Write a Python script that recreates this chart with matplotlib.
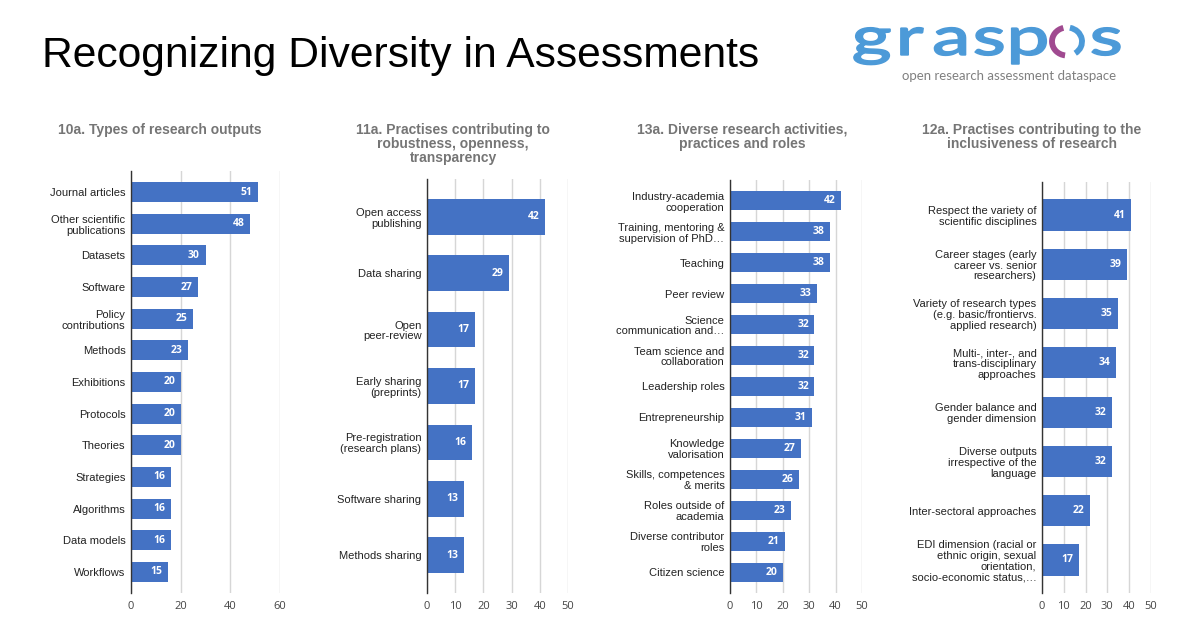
import matplotlib
matplotlib.use("Agg")
import matplotlib.pyplot as plt
from matplotlib.patches import Arc, PathPatch
from matplotlib.textpath import TextPath
from matplotlib.font_manager import FontProperties
from matplotlib.transforms import Affine2D

# ---------------- data ----------------
title1 = "10a. Types of research outputs"
cats1 = ["Journal articles", "Other scientific\npublications", "Datasets", "Software",
         "Policy\ncontributions", "Methods", "Exhibitions", "Protocols", "Theories",
         "Strategies", "Algorithms", "Data models", "Workflows"]
vals1 = [51, 48, 30, 27, 25, 23, 20, 20, 20, 16, 16, 16, 15]
ticks1 = [0, 20, 40, 60]

title2 = "11a. Practises contributing to\nrobustness, openness,\ntransparency"
cats2 = ["Open access\npublishing", "Data sharing", "Open\npeer-review",
         "Early sharing\n(preprints)", "Pre-registration\n(research plans)",
         "Software sharing", "Methods sharing"]
vals2 = [42, 29, 17, 17, 16, 13, 13]
ticks2 = [0, 10, 20, 30, 40, 50]

title3 = "13a. Diverse research activities,\npractices and roles"
cats3 = ["Industry-academia\ncooperation", "Training, mentoring &\nsupervision of PhD…",
         "Teaching", "Peer review", "Science\ncommunication and…",
         "Team science and\ncollaboration", "Leadership roles", "Entrepreneurship",
         "Knowledge\nvalorisation", "Skills, competences\n& merits",
         "Roles outside of\nacademia", "Diverse contributor\nroles", "Citizen science"]
vals3 = [42, 38, 38, 33, 32, 32, 32, 31, 27, 26, 23, 21, 20]
ticks3 = [0, 10, 20, 30, 40, 50]

title4 = "12a. Practises contributing to the\ninclusiveness of research"
cats4 = ["Respect the variety of\nscientific disciplines",
         "Career stages (early\ncareer vs. senior\nresearchers)",
         "Variety of research types\n(e.g. basic/frontiervs.\napplied research)",
         "Multi-, inter-, and\ntrans-disciplinary\napproaches",
         "Gender balance and\ngender dimension",
         "Diverse outputs\nirrespective of the\nlanguage",
         "Inter-sectoral approaches",
         "EDI dimension (racial or\nethnic origin, sexual\norientation,\nsocio-economic status,…"]
vals4 = [41, 39, 35, 34, 32, 32, 22, 17]
ticks4 = [0, 10, 20, 30, 40, 50]

main_title = "Recognizing Diversity in Assessments"
logo_letters = ["g", "r", "a", "s", "p", "o", "s"]
logo_sub = "open research assessment dataspace"

# ---------------- style ----------------
W, H = 1200, 630
BAR = "#4472C4"
GRID = "#d6d6d6"
TITLE_C = "#757575"
LABEL_C = "#222222"
TICK_C = "#444444"
SANS = ["Liberation Sans", "DejaVu Sans"]
NUM = ["Open Sans", "DejaVu Sans"]

fig = plt.figure(figsize=(W / 100, H / 100), dpi=100)
fig.patch.set_facecolor("white")

# panel boxes in pixels: left, right, top, bottom, title-center-x
panels = [
    (cats1, vals1, ticks1, title1, (131, 280, 171, 593, 160)),
    (cats2, vals2, ticks2, title2, (427, 568, 179, 593, 453)),
    (cats3, vals3, ticks3, title3, (730, 862, 180, 593, 742)),
    (cats4, vals4, ticks4, title4, (1042, 1151, 182, 593, 1032)),
]

for cats, vals, ticks, title, (l, r, t, b, tx) in panels:
    ax = fig.add_axes([l / W, 1 - b / H, (r - l) / W, (b - t) / H])
    n = len(cats)
    ypos = list(range(n))
    ax.barh(ypos, vals, height=0.63, color=BAR, zorder=3)
    ax.set_ylim(n - 1 + 0.67, -0.67)
    ax.set_xlim(ticks[0], ticks[-1])
    ax.set_xticks(ticks)
    ax.set_xticklabels([str(v) for v in ticks], fontsize=8, color=TICK_C, family=NUM)
    ax.set_yticks(ypos)
    ax.set_yticklabels(cats, fontsize=8, color=LABEL_C, family=SANS, linespacing=1.1)
    ax.tick_params(axis="both", length=0)
    ax.tick_params(axis="y", pad=4)
    ax.tick_params(axis="x", pad=6)
    ax.grid(axis="x", color=GRID, linewidth=1, zorder=0)
    ax.set_axisbelow(True)
    for s in ["top", "right", "bottom"]:
        ax.spines[s].set_visible(False)
    ax.spines["left"].set_color("#333333")
    ax.spines["left"].set_linewidth(1)
    ax.spines["left"].set_zorder(4)
    for yy, v in zip(ypos, vals):
        ax.annotate(str(v), xy=(v, yy), xytext=(-4, 0), textcoords="offset points",
                    ha="right", va="center", color="white", fontsize=7.5,
                    fontweight="bold", family=NUM, zorder=5)
    fig.text(tx / W, 1 - 123 / H, title, ha="center", va="top", fontsize=10,
             fontweight="bold", color=TITLE_C, family=SANS, linespacing=1.0,
             multialignment="center")

# main title
fig.text(42 / W, 1 - 67 / H, main_title, ha="left", va="baseline", fontsize=30.7,
         color="#000000", family=SANS)

# logo (decoration), drawn in a full-figure pixel-coordinate axes
lax = fig.add_axes([0, 0, 1, 1])
lax.set_xlim(0, W)
lax.set_ylim(0, H)
lax.axis("off")
LOGO_B = "#4C9AD8"
LOGO_P = "#A04A90"
letter_x = [872, 912, 950, 989, 1029, 1067, 1106]
base_y = H - 55
fp = FontProperties(family="Lato", weight="medium")
SX = 1.45
for ch, x in zip(logo_letters, letter_x):
    if ch == "o":
        continue
    tp = TextPath((0, 0), ch, size=53, prop=fp)
    ext = tp.get_extents()
    cx = (ext.x0 + ext.x1) / 2
    tr = Affine2D().translate(-cx, 0).scale(SX, 1).translate(x, base_y)
    lax.add_patch(PathPatch(tr.transform_path(tp), facecolor=LOGO_B,
                            edgecolor=LOGO_B, linewidth=1.0))
oc = (1067, H - 41.5)
lax.add_patch(Arc(oc, 30, 28, theta1=105, theta2=262, color=LOGO_P, linewidth=4.2))
lax.add_patch(Arc(oc, 30, 28, theta1=-55, theta2=78, color=LOGO_B, linewidth=4.2))
lax.text(1009.5, H - 76, logo_sub, ha="center", va="center", fontsize=9.5,
         color="#808080", family=["Lato", "DejaVu Sans"])

fig.savefig("out.png", dpi=100, facecolor="white")
